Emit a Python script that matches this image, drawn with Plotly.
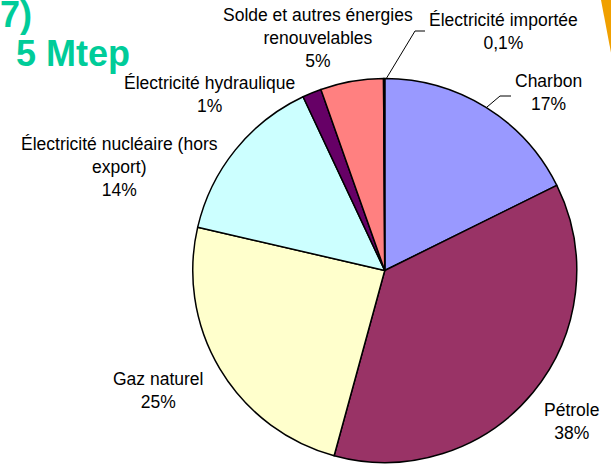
import plotly.graph_objects as go

W, H = 611, 467

# ---- data ----
categories = [
    "Charbon",
    "Pétrole",
    "Gaz naturel",
    "Électricité nucléaire (hors export)",
    "Électricité hydraulique",
    "Solde et autres énergies renouvelables",
    "Électricité importée",
]
values = [17.7, 36.6, 24.4, 14.4, 1.6, 5.3, 0.1]
pct_labels = ["17%", "38%", "25%", "14%", "1%", "5%", "0,1%"]
label_lines = [
    "Charbon",
    "Pétrole",
    "Gaz naturel",
    "Électricité nucléaire (hors<br>export)",
    "Électricité hydraulique",
    "Solde et autres énergies<br>renouvelables",
    "Électricité importée",
]
colors = ["#9999FF", "#993366", "#FFFFCC", "#CCFFFF", "#660066", "#FF8080", "#0066CC"]

# ---- layout (pixel positions) ----
label_pos = [(548, 93), (571, 421), (158, 390), (119, 167), (209, 95), (318, 38), (503, 31)]
leaders = [
    [(487, 107), (500, 96), (511, 96)],
    [(386, 79), (415, 31), (425, 31)],
]

def px(x):
    return x / W

def py(y):
    return 1 - y / H

fig = go.Figure(
    go.Pie(
        labels=categories,
        values=values,
        sort=False,
        direction="clockwise",
        rotation=0,
        marker=dict(colors=colors, line=dict(color="black", width=1.5)),
        textinfo="none",
        hoverinfo="label+percent",
        domain=dict(x=[px(192.5), px(577)], y=[py(462.5), py(78.5)]),
        showlegend=False,
    )
)

annotations = []
for (x, y), name, pct in zip(label_pos, label_lines, pct_labels):
    annotations.append(
        dict(
            x=px(x), y=py(y), xref="paper", yref="paper",
            text=f"{name}<br>{pct}", showarrow=False,
            xanchor="center", yanchor="middle", align="center",
            font=dict(family="Liberation Sans, Arial", size=17.5, color="black"),
        )
    )

# partially visible title at top-left
title_font = dict(family="Liberation Sans, Arial", size=36, color="#00CC99")
annotations.append(dict(x=px(33), y=py(36), xref="paper", yref="paper", text="<b>7)</b>",
                        showarrow=False, xanchor="right", yanchor="bottom", borderpad=0,
                        font=title_font))
annotations.append(dict(x=px(131), y=py(32), xref="paper", yref="paper", text="<b>5 Mtep</b>",
                        showarrow=False, xanchor="right", yanchor="top", borderpad=0,
                        font=title_font))

shapes = []
for pts in leaders:
    path = "M " + " L ".join(f"{px(x)},{py(y)}" for x, y in pts)
    shapes.append(dict(type="path", xref="paper", yref="paper", path=path,
                       line=dict(color="black", width=1)))

# orange decorative wedge at the top-right edge
shapes.append(dict(type="path", xref="paper", yref="paper",
                   path=f"M {px(601)},{py(0)} L {px(612)},{py(0)} L {px(612)},{py(58)} Z",
                   fillcolor="#F0A000", line=dict(width=0)))

fig.update_layout(
    width=W, height=H,
    margin=dict(l=0, r=0, t=0, b=0),
    paper_bgcolor="white", plot_bgcolor="white",
    annotations=annotations, shapes=shapes,
)

fig.write_html("out.html", config={"displayModeBar": False},
               post_script="document.body.style.margin='0';")
